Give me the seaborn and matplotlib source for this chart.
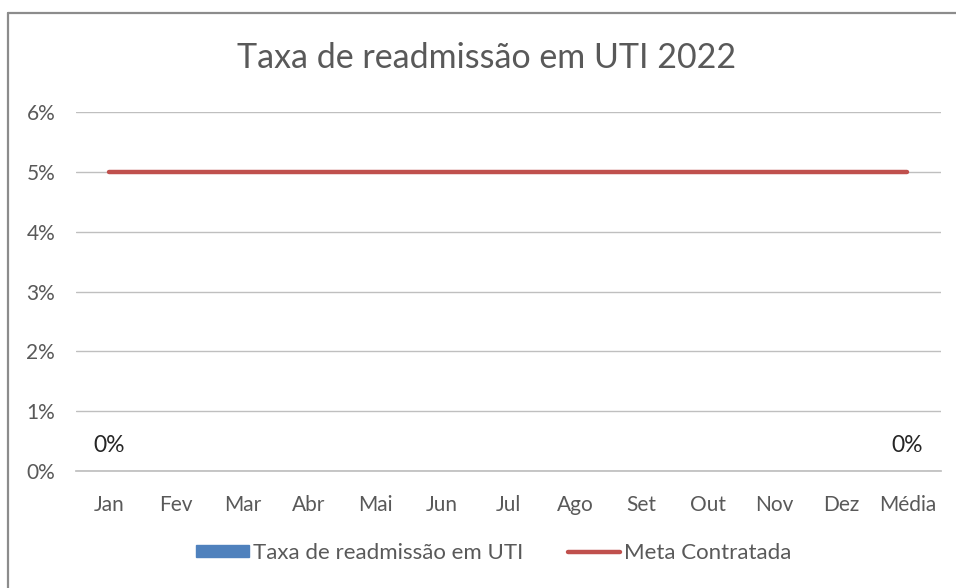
import numpy as np
import pandas as pd
import matplotlib
matplotlib.use("Agg")
import matplotlib.pyplot as plt
import seaborn as sns
from matplotlib.lines import Line2D
from matplotlib.patches import Patch

categories = ["Jan", "Fev", "Mar", "Abr", "Mai", "Jun", "Jul", "Ago", "Set", "Out", "Nov", "Dez", "Média"]
taxa = [0.0, np.nan, np.nan, np.nan, np.nan, np.nan, np.nan, np.nan, np.nan, np.nan, np.nan, np.nan, 0.0]
meta = [0.05] * 13
yticks = [0, 0.01, 0.02, 0.03, 0.04, 0.05, 0.06]
ytick_labels = ["0%", "1%", "2%", "3%", "4%", "5%", "6%"]

sns.set_theme(style="white")
plt.rcParams['font.family'] = ['Lato', 'DejaVu Sans']

df = pd.DataFrame({"mes": categories, "taxa": taxa, "meta": meta})

fig = plt.figure(figsize=(9.56, 5.88), dpi=100)
ax = fig.add_axes([0.0795, 0.199, 0.9045, 0.6105])

blue = "#4f81bd"
red = "#c0504d"
grey_txt = "#595959"

sns.barplot(data=df, x="mes", y="taxa", color=blue, ax=ax, width=0.6)
ax.plot(range(len(categories)), df["meta"], color=red, lw=3.2, solid_capstyle="round", zorder=5)

for i, v in enumerate(taxa):
    if not np.isnan(v):
        ax.annotate(f"{v*100:.0f}%", (i, v), xytext=(0, 25), textcoords="offset pixels",
                    ha="center", va="center", fontsize=16.5, color="#262626")

ax.set_xlim(-0.5, len(categories) - 0.5)
ax.set_ylim(0, 0.06)
ax.set_yticks(yticks)
ax.set_yticklabels(ytick_labels, fontsize=15, color=grey_txt)
ax.set_xticks(range(len(categories)))
ax.set_xticklabels(categories, fontsize=15, color=grey_txt)
ax.tick_params(axis="x", length=0, pad=17)
ax.tick_params(axis="y", length=0, pad=15)
ax.grid(axis="y", color="#bfbfbf", lw=1)
ax.set_axisbelow(True)
for s in ["top", "right", "left"]:
    ax.spines[s].set_visible(False)
ax.spines["bottom"].set_color("#bfbfbf")
ax.set_xlabel("")
ax.set_ylabel("")

fig.text(486.5 / 956, 1 - 58 / 588, "Taxa de readmissão em UTI 2022", ha="center", va="center",
         fontsize=24.5, color=grey_txt)

handles = [Patch(facecolor=blue, edgecolor=blue, label="Taxa de readmissão em UTI"),
           Line2D([0], [0], color=red, lw=3.2, label="Meta Contratada")]
leg = fig.legend(handles=handles, loc="center", bbox_to_anchor=(494 / 956, 1 - 553 / 588), ncol=2,
                 frameon=False, fontsize=16, handlelength=2.35, handleheight=0.45,
                 handletextpad=0.2, columnspacing=2.0)
for t in leg.get_texts():
    t.set_color(grey_txt)

# outer border (top and left visible)
fig.add_artist(Line2D([8 / 956, 1.0], [1 - 13 / 588, 1 - 13 / 588], transform=fig.transFigure, color="#8c8c8c", lw=1.6))
fig.add_artist(Line2D([8 / 956, 8 / 956], [0, 1 - 13 / 588], transform=fig.transFigure, color="#8c8c8c", lw=1.6))

fig.savefig("out.png", dpi=100)
